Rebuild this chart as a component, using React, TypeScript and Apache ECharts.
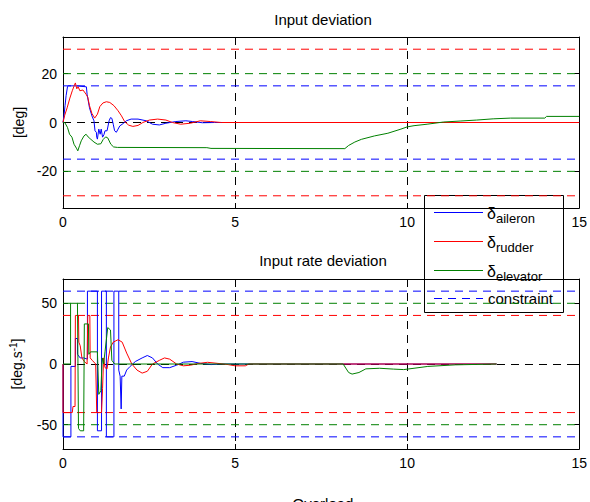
import React, { useEffect, useRef } from "react";
import * as echarts from "echarts";

const FONT = "'Liberation Sans', Arial, Helvetica, sans-serif";

// ---------- axes ----------
const xTicks = [0, 5, 10, 15];
const devTicks = [-20, 0, 20];
const rateTicks = [-50, 0, 50];
const devRange = [-35, 35];
const rateRange = [-70, 70];
const zeroGrid = [0];

// constraint levels: [aileron, rudder, elevator]
const devLimits = [15, 30, 20];
const rateLimits = [60, 40, 50];

// ---------- Input deviation [deg] ----------
const aileronDev: [number, number][] = [
  [0, 0], [0.03, 3], [0.06, 7], [0.09, 11], [0.13, 14.6], [0.15, 15], [0.4, 15], [0.68, 14.6],
  [0.7, 11.6], [0.77, 6], [0.84, 2.7], [0.9, 0.7], [0.93, -3.4], [0.97, -4], [0.98, -6], [1.0, -6.8],
  [1.04, -2.7], [1.08, -4.8], [1.11, -2.7], [1.15, -6], [1.19, -5], [1.22, -3.4], [1.28, -3.4],
  [1.34, 0.7], [1.38, 2], [1.42, 1.7], [1.46, -0.7], [1.5, -3.4], [1.55, -4], [1.6, -2.7],
  [1.65, -1.4], [1.75, -0.4], [1.84, 0.7], [1.98, 1.4], [2.18, 1.4], [2.42, 0.7], [2.6, -0.7],
  [2.8, -1], [2.99, -0.3], [3.28, 0.4], [3.57, 0.7], [3.76, 0.4], [4.05, -0.1], [4.4, 0], [15, 0],
];
const rudderDev: [number, number][] = [
  [0, 0], [0.05, 3], [0.12, 6], [0.2, 10], [0.27, 13], [0.33, 15.2], [0.36, 16.2], [0.4, 13.8],
  [0.44, 14.6], [0.49, 13], [0.58, 13.3], [0.67, 11.6], [0.72, 10.3], [0.77, 6.9], [0.84, 3.7],
  [0.92, 1.8], [1.0, 3.4], [1.07, 6.5], [1.16, 8], [1.26, 8.5], [1.36, 8.2], [1.48, 6.9],
  [1.6, 4.8], [1.7, 2.7], [1.79, 0.4], [1.91, -1.1], [2.03, -1.6], [2.18, -1.2], [2.32, 0],
  [2.51, 1], [2.75, 1.4], [2.99, 1], [3.18, 0], [3.42, -0.7], [3.7, -0.3], [3.99, 0.7],
  [4.28, 0.4], [4.6, 0], [15, 0],
];
const elevatorDev: [number, number][] = [
  [0, 0], [0.05, 0], [0.13, -2], [0.19, -4.8], [0.26, -6], [0.32, -8.9], [0.39, -10.5],
  [0.43, -11.6], [0.48, -9.5], [0.53, -7.5], [0.61, -5.5], [0.67, -4.8], [0.73, -5.9],
  [0.81, -6.9], [0.9, -8], [1.0, -8.9], [1.1, -8.7], [1.17, -6.9], [1.24, -5.9], [1.3, -6.3],
  [1.39, -8.9], [1.47, -10], [1.58, -10.2], [4.18, -10.3], [4.3, -10.6], [8.19, -10.7],
  [8.3, -9.4], [8.48, -8], [8.67, -6.9], [9.05, -5.5], [9.44, -4.4], [9.82, -2.7], [10.0, -1.8],
  [10.2, -1.3], [10.58, -0.7], [11.06, 0.2], [11.54, 0.6], [12.02, 1.0], [12.5, 1.5],
  [13.0, 1.8], [14.0, 1.8], [14.05, 2.5], [15, 2.5],
];

// ---------- Input rate deviation [deg/s] ----------
const aileronRate: [number, number][] = [
  [0, 0], [0, -60], [0.23, -60], [0.23, -2], [0.36, -2], [0.36, 21], [0.42, 21], [0.42, 8],
  [0.5, 5], [0.6, 5], [0.71, 4], [0.71, 60], [1.0, 60], [1.0, -55], [1.12, -55], [1.12, 60],
  [1.26, 60], [1.26, -60], [1.48, -60], [1.48, 60], [1.62, 60], [1.62, -5], [1.66, -10],
  [1.69, -37], [1.71, -10], [1.78, -10], [1.85, -5], [1.95, -2], [2.1, 2], [2.3, 5], [2.45, 7],
  [2.6, 5], [2.75, 0], [2.9, -3], [3.1, -3], [3.3, -1], [3.5, 1.5], [3.75, 2], [4.0, 0.5],
  [4.3, -0.5], [4.6, 0], [12.6, 0],
];
const rudderRate: [number, number][] = [
  [0, 0], [0, -40], [0.27, -40], [0.29, -35], [0.35, -35], [0.36, 40], [0.45, 40], [0.46, 18],
  [0.5, 15], [0.55, 5], [0.62, 2], [0.7, 0], [0.72, 40], [0.78, 40], [0.79, 5], [0.85, 3],
  [0.95, 0], [0.98, -40], [1.12, -40], [1.15, -20], [1.18, 5], [1.22, -3], [1.28, -4],
  [1.32, 5], [1.38, 14], [1.46, 18], [1.6, 20], [1.72, 18], [1.85, 9], [2.0, 0], [2.15, -5],
  [2.3, -7.5], [2.45, -6], [2.6, 0], [2.8, 3], [2.95, 5], [3.1, 4], [3.3, 0], [3.5, -1.5],
  [3.7, -1], [3.95, 0.5], [4.2, 1.4], [4.5, 0.5], [4.8, -0.5], [5.0, -1.5], [5.3, -1.5],
  [5.4, 0], [12.6, 0],
];
const elevatorRate: [number, number][] = [
  [0, 0], [0.22, 0], [0.22, 50], [0.42, 50], [0.45, -53], [0.5, -55], [0.6, -55], [0.62, 33],
  [0.74, 33], [0.75, 8], [0.8, 10], [1.0, 10], [1.04, -25], [1.1, -22], [1.14, 5], [1.18, 0],
  [1.22, 10], [1.3, 30], [1.38, 28], [1.42, 3], [1.5, 0], [8.14, 0], [8.3, -7], [8.4, -8.3],
  [8.6, -7], [8.8, -4], [9.2, -3.5], [9.6, -4.2], [9.9, -4.6], [10.2, -3.5], [10.6, -2],
  [11.4, -0.7], [12.6, 0],
];

const BLUE = "#0000ff";
const RED = "#ff0000";
const GREEN = "#008000";
const DASH = [8, 6];

function xAxes(gridIndex: number) {
  return [
    {
      gridIndex, type: "value", min: 0, max: 15, interval: 5, position: "bottom",
      axisLine: { show: true, onZero: false, lineStyle: { color: "#000", width: 1 } },
      axisTick: { show: true, inside: true, length: 5, lineStyle: { color: "#000" } },
      axisLabel: { show: true, color: "#000", fontSize: 14, fontFamily: FONT, margin: 7,
        customValues: xTicks },
      splitLine: { show: true, lineStyle: { color: "#000", type: DASH, width: 1 } },
      z: 0,
    },
    {
      gridIndex, type: "value", min: 0, max: 15, interval: 5, position: "top",
      axisLine: { show: true, onZero: false, lineStyle: { color: "#000", width: 1 } },
      axisTick: { show: true, inside: true, length: 5, lineStyle: { color: "#000" } },
      axisLabel: { show: false },
      splitLine: { show: false },
    },
  ];
}

function yAxes(gridIndex: number, range: number[], ticks: number[], name: any) {
  return [
    {
      gridIndex, type: "value", min: range[0], max: range[1], position: "left",
      name, nameLocation: "middle", nameGap: 37, nameRotate: 90,
      nameTextStyle: { color: "#000", fontSize: 14, fontFamily: FONT,
        rich: {
          a: { fontSize: 14, fontFamily: FONT, color: "#000" },
          sup: { fontSize: 10, fontFamily: FONT, color: "#000", verticalAlign: "top", padding: [0, 0, 8, 0] },
        } },
      axisLine: { show: true, onZero: false, lineStyle: { color: "#000", width: 1 } },
      axisTick: { show: true, inside: true, length: 5, customValues: ticks, lineStyle: { color: "#000" } },
      axisLabel: { show: true, color: "#000", fontSize: 14, fontFamily: FONT, margin: 6, customValues: ticks },
      splitLine: { show: false },
    },
    {
      gridIndex, type: "value", min: range[0], max: range[1], position: "right",
      axisLine: { show: true, onZero: false, lineStyle: { color: "#000", width: 1 } },
      axisTick: { show: true, inside: true, length: 5, customValues: ticks, lineStyle: { color: "#000" } },
      axisLabel: { show: false },
      splitLine: { show: false },
    },
  ];
}

function constraintSeries(axisIdx: number, limits: number[]) {
  const colors = [BLUE, RED, GREEN];
  const out: any[] = [];
  // zero grid line (black dashed), beneath the signals
  out.push({
    type: "line", name: "grid", xAxisIndex: axisIdx, yAxisIndex: axisIdx, data: [],
    silent: true, z: 1,
    markLine: {
      silent: true, symbol: "none", animation: false, label: { show: false }, z: 1,
      lineStyle: { color: "#000", type: DASH, width: 1 },
      data: zeroGrid.map((v) => ({ yAxis: v })),
    },
  });
  // order drawn: rudder (red), elevator (green), aileron (blue)
  [1, 2, 0].forEach((k) => {
    [1, -1].forEach((s) => {
      out.push({
        type: "line", name: k === 0 ? "constraint" : "lim" + k, xAxisIndex: axisIdx, yAxisIndex: axisIdx,
        data: [[0, s * limits[k]], [15, s * limits[k]]], symbol: "none", silent: true, z: 2,
        lineStyle: { color: colors[k], width: 1, type: DASH },
      });
    });
  });
  return out;
}

function signal(name: string, data: [number, number][], color: string, axisIdx: number, z: number) {
  return {
    type: "line", name, data, xAxisIndex: axisIdx, yAxisIndex: axisIdx, symbol: "none",
    silent: true, z, lineStyle: { color, width: 1 },
  };
}

const LEG_X = 424;
const LEG_Y = 195;
const legendRows = [
  { color: BLUE, sub: "aileron", dy: 17.5 },
  { color: RED, sub: "rudder", dy: 46.5 },
  { color: GREEN, sub: "elevator", dy: 75.5 },
];

function legendGraphic() {
  const children: any[] = [
    { type: "rect", shape: { x: 0.5, y: 0.5, width: 139, height: 117 },
      style: { fill: "#fff", stroke: "#000", lineWidth: 1 } },
  ];
  legendRows.forEach((r) => {
    children.push({ type: "line", shape: { x1: 10, y1: r.dy, x2: 59, y2: r.dy },
      style: { stroke: r.color, lineWidth: 1 } });
    children.push({ type: "text", x: 63, y: r.dy + 1,
      style: { text: "δ", font: `16px ${FONT}`, fill: "#000", verticalAlign: "middle", align: "left" } });
    children.push({ type: "text", x: 72, y: r.dy + 5.5,
      style: { text: r.sub, font: `13px ${FONT}`, fill: "#000", verticalAlign: "middle", align: "left" } });
  });
  children.push({ type: "line", shape: { x1: 10, y1: 103.5, x2: 59, y2: 103.5 },
    style: { stroke: BLUE, lineWidth: 1, lineDash: DASH } });
  children.push({ type: "text", x: 64, y: 103,
    style: { text: "constraint", font: `15px ${FONT}`, fill: "#000", verticalAlign: "middle", align: "left" } });
  return { type: "group", left: LEG_X, top: LEG_Y, z: 100, children };
}

function title(text: string, y: number) {
  return { type: "text", x: 323, y, z: 50,
    style: { text, font: `15px ${FONT}`, fill: "#000", align: "center", verticalAlign: "middle" } };
}

const option: any = {
  animation: false,
  backgroundColor: "#fff",
  grid: [
    { left: 63, top: 37, width: 520, height: 171, containLabel: false },
    { left: 63, top: 279, width: 520, height: 170, containLabel: false },
  ],
  xAxis: [...xAxes(0), ...xAxes(1)],
  yAxis: [
    ...yAxes(0, devRange, devTicks, "[deg]"),
    ...yAxes(1, rateRange, rateTicks, "{a|[deg.s}{sup|-1}{a|]}"),
  ],
  series: [
    ...constraintSeries(0, devLimits),
    signal("aileron", aileronDev, BLUE, 0, 3),
    signal("rudder", rudderDev, RED, 0, 4),
    signal("elevator", elevatorDev, GREEN, 0, 5),
    ...constraintSeries(2, rateLimits),
    signal("aileron", aileronRate, BLUE, 2, 3),
    signal("rudder", rudderRate, RED, 2, 4),
    signal("elevator", elevatorRate, GREEN, 2, 5),
  ],
  graphic: [
    title("Input deviation", 19.5),
    title("Input rate deviation", 260),
    title("Overload", 503),
    legendGraphic(),
  ],
};

export default function App() {
  const ref = useRef<HTMLDivElement>(null);
  useEffect(() => {
    const chart = echarts.init(ref.current!, null, { renderer: "svg" });
    chart.setOption(option);
    return () => chart.dispose();
  }, []);
  return (
    <div
      ref={ref}
      style={{ position: "fixed", left: 0, top: 0, width: 590, height: 502, background: "#fff" }}
    />
  );
}
